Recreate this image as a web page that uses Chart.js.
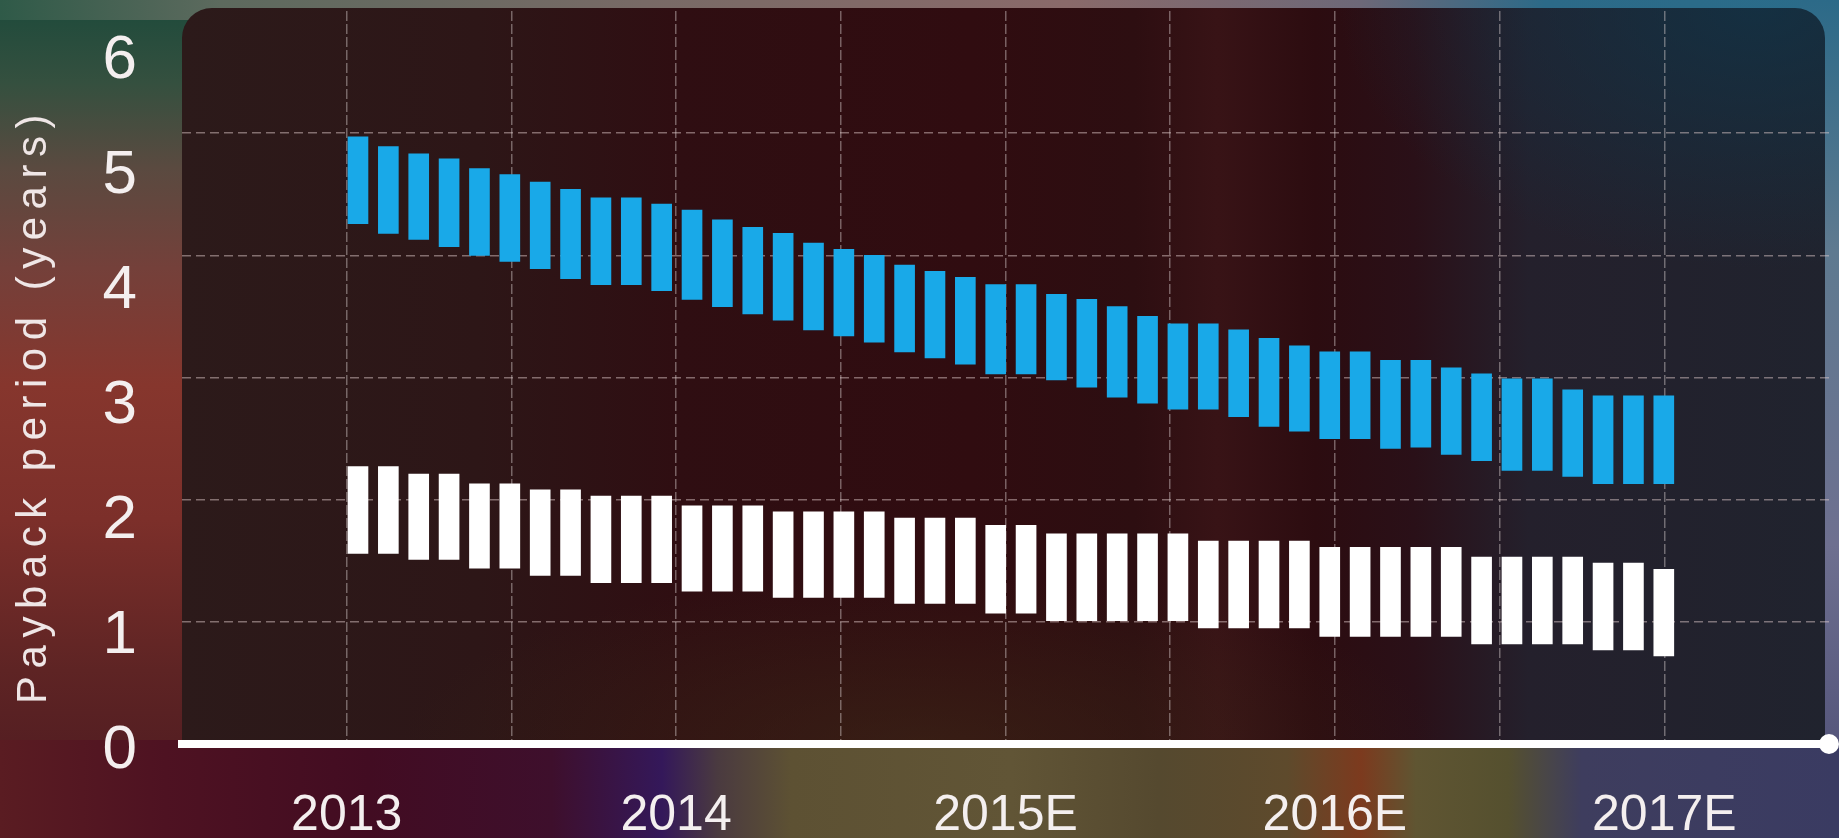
<!DOCTYPE html>
<html>
<head>
<meta charset="utf-8">
<script src="https://cdn.jsdelivr.net/npm/chart.js@4.4.1/dist/chart.umd.min.js"></script>
<style>
  html, body { margin:0; padding:0; width:1839px; height:838px; overflow:hidden; background:#3a2020; }
  .layer { position:absolute; }
  #leftcol { left:0; top:0; width:190px; height:838px;
    background: linear-gradient(to bottom, #1d4a3b 0%, #35503f 10%, #5a4a40 20%, #74403a 32%, #86362d 46%, #7c2f2a 62%, #5e2424 80%, #4a1820 100%); }
  #topstrip { left:0; top:0; width:1839px; height:20px;
    background: linear-gradient(to right, #2f5a48 0%, #5d6a5e 12%, #786a66 35%, #8a6a6a 58%, #6d6878 74%, #2c6a88 84%, #2a6c8a 100%); }
  #rightcol { left:1800px; top:0; width:39px; height:838px;
    background: linear-gradient(to bottom, #2c6a88 0%, #5f7a90 30%, #6e7090 65%, #4a4a72 100%); }
  #bottomstrip { left:0; top:740px; width:1839px; height:98px;
    background: linear-gradient(to right, #5a1c22 0%, #4e1222 9%, #420c22 20%, #3e0f2c 30%, #34185a 36%, #4a3a40 39%, #5d5133 43%, #615536 55%, #55492f 63%, #5e4a2c 70%, #7c3a1e 74%, #5f5532 77%, #55502f 82%, #3e3d5e 86%, #3a3b62 100%); }
  #panel { left:182px; top:8px; width:1643px; height:737px; border-radius:30px 30px 0 0;
    background:
      radial-gradient(ellipse 420px 260px at 96% 0%, rgba(16,52,72,0.75), rgba(16,52,72,0) 100%),
      radial-gradient(ellipse 520px 170px at 45% 100%, rgba(62,44,24,0.55), rgba(62,44,24,0) 100%),
      linear-gradient(to right, #2c1a1a 0%, #2d1617 18%, #2f0e12 30%, #300c10 48%, #2d0e11 58%, #381316 63%, #2c0c10 69%, #2a1018 75%, #24202c 82%, #20232e 100%); }
  canvas { position:absolute; left:0; top:0; }
</style>
</head>
<body>
<div class="layer" id="leftcol"></div>
<div class="layer" id="topstrip"></div>
<div class="layer" id="rightcol"></div>
<div class="layer" id="bottomstrip"></div>
<div class="layer" id="panel"></div>
<canvas id="c" width="1839" height="838"></canvas>
<script>
// ---- data ----
const yearValues = [2013, 2014, 2015, 2016, 2017];
const yearLabels = ['2013', '2014', '2015E', '2016E', '2017E'];
const yTickValues = [0, 1, 2, 3, 4, 5, 6];

const blueLow  = [4.26,4.18,4.13,4.07,4.00,3.95,3.89,3.81,3.76,3.76,3.71,3.64,3.58,3.52,3.47,3.39,3.34,3.29,3.21,3.16,3.11,3.03,3.03,2.98,2.92,2.84,2.79,2.74,2.74,2.68,2.60,2.56,2.50,2.50,2.42,2.43,2.37,2.32,2.24,2.24,2.19,2.13,2.13,2.13];
const blueHigh = [4.97,4.89,4.83,4.79,4.71,4.66,4.60,4.54,4.47,4.47,4.42,4.37,4.29,4.23,4.18,4.10,4.05,4.00,3.92,3.87,3.82,3.76,3.76,3.68,3.64,3.58,3.50,3.44,3.44,3.39,3.32,3.26,3.21,3.21,3.14,3.14,3.08,3.03,2.99,2.99,2.90,2.85,2.85,2.85];
const whiteLow  = [1.56,1.56,1.51,1.51,1.44,1.44,1.38,1.38,1.32,1.32,1.32,1.25,1.25,1.25,1.20,1.20,1.20,1.20,1.15,1.15,1.15,1.07,1.07,1.01,1.01,1.01,1.01,1.01,0.95,0.95,0.95,0.95,0.88,0.88,0.88,0.88,0.88,0.82,0.82,0.82,0.82,0.77,0.77,0.72];
const whiteHigh = [2.27,2.27,2.21,2.21,2.13,2.13,2.08,2.08,2.03,2.03,2.03,1.95,1.95,1.95,1.90,1.90,1.90,1.90,1.85,1.85,1.85,1.79,1.79,1.72,1.72,1.72,1.72,1.72,1.66,1.66,1.66,1.66,1.61,1.61,1.61,1.61,1.61,1.53,1.53,1.53,1.53,1.48,1.48,1.43];

// ---- build ----
const toBars = (lo, hi) => lo.map((v, i) => ({ x: i, y: [v, hi[i]] }));
const TICK_FONT = "'Liberation Sans', 'Roboto', sans-serif";
const TXT = '#f4efef';

const endDot = {
  id: 'endDot',
  afterDraw(chart) {
    const { ctx, chartArea, scales } = chart;
    const y = scales.y.getPixelForValue(0);
    ctx.save();
    ctx.fillStyle = '#ffffff';
    ctx.beginPath();
    ctx.arc(chartArea.right, y, 10, 0, Math.PI * 2);
    ctx.fill();
    ctx.restore();
  }
};

new Chart(document.getElementById('c'), {
  type: 'bar',
  data: {
    datasets: [
      { label: 'Blue', data: toBars(blueLow, blueHigh), backgroundColor: '#19a9e8', xAxisID: 'xb', yAxisID: 'y' },
      { label: 'White', data: toBars(whiteLow, whiteHigh), backgroundColor: '#ffffff', xAxisID: 'xb', yAxisID: 'y' }
    ]
  },
  options: {
    responsive: false,
    devicePixelRatio: 1,
    animation: false,
    grouped: false,
    barThickness: 20,
    borderWidth: 0,
    layout: { padding: { top: 11, right: 10, bottom: 0, left: 0 } },
    plugins: { legend: { display: false }, tooltip: { enabled: false } },
    scales: {
      xb: { type: 'linear', display: false, offset: false, min: -5.795, max: 48.44, grid: { offset: false } },
      x: {
        type: 'linear', position: 'bottom', min: 2012.5, max: 2017.5, offset: false,
        ticks: {
          stepSize: 0.5, autoSkip: false, maxRotation: 0, minRotation: 0, padding: 0,
          color: TXT, font: { family: TICK_FONT, size: 50, lineHeight: 2.88 },
          callback: (v) => { const k = yearValues.indexOf(v); return k >= 0 ? yearLabels[k] : ''; }
        },
        grid: {
          offset: false, drawTicks: false, lineWidth: 1.5,
          color: (c) => (c.tick && (c.tick.value === 2012.5 || c.tick.value === 2017.5)) ? 'rgba(0,0,0,0)' : 'rgba(225,215,215,0.42)'
        },
        border: { display: true, color: '#ffffff', width: 8, dash: [10, 3] },
        afterFit(s) { s.height = 94; }
      },
      y: {
        position: 'left', min: 0, max: 6, weight: 0,
        ticks: { display: false, stepSize: 1 },
        grid: {
          drawTicks: false, lineWidth: 1.5,
          color: (c) => (c.tick && (c.tick.value === 0 || c.tick.value === 6)) ? 'rgba(0,0,0,0)' : 'rgba(225,205,205,0.48)'
        },
        border: { display: false, dash: [9, 5] },
        afterFit(s) { s.width = 45; }
      },
      y2: {
        position: 'left', min: 0.061, max: 6.435, weight: 1,
        grid: { display: false, drawTicks: false },
        border: { display: false },
        afterBuildTicks(s) { s.ticks = yTickValues.map(v => ({ value: v })); },
        ticks: {
          padding: 0, color: TXT,
          font: { family: TICK_FONT, size: 62, lineHeight: 0.2 }
        },
        title: {
          display: true, text: 'Payback period (years)', color: '#efe6e6',
          font: { family: "'Liberation Sans', sans-serif", size: 42, lineHeight: 1.2 },
          padding: { top: 9, bottom: 0 }
        },
        afterFit(s) { s.width = 137; },
        afterUpdate(s) {
          if (!s.__patched) {
            s.__patched = true;
            const orig = s.drawTitle;
            s.drawTitle = function (...a) {
              const c = this.ctx;
              c.save();
              c.translate(0, 28);
              try { c.letterSpacing = '7.5px'; } catch (e) {}
              orig.apply(this, a);
              c.restore();
            };
          }
        }
      }
    }
  },
  plugins: [endDot]
});
</script>
</body>
</html>
